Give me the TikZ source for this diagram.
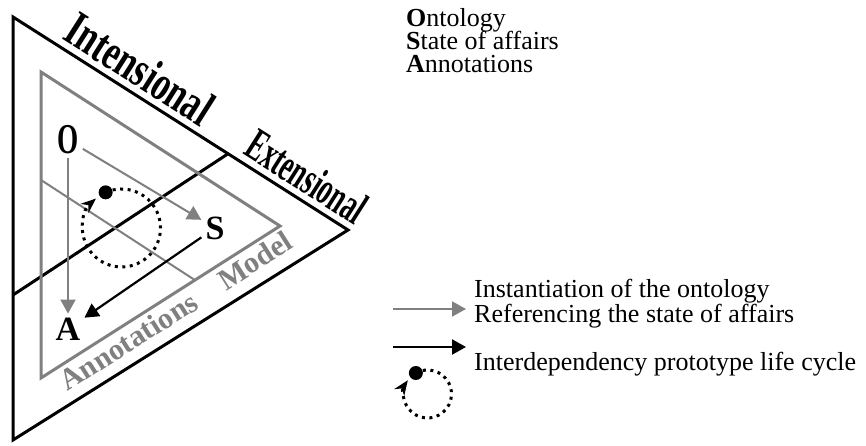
\documentclass[tikz,border=0pt]{standalone}
\usepackage{fontspec}
\setmainfont{Liberation Serif}
\usetikzlibrary{arrows.meta,calc}

\begin{document}
\begin{tikzpicture}[x=1pt,y=1pt,
  frame/.style={line width=3pt, line join=miter},
  model/.style={draw=black!50, line width=3pt},
  inst/.style={draw=black!50, line width=2pt, -{Triangle[length=14pt,width=15pt]}},
  refarr/.style={line width=2.2pt, -{Triangle[length=14pt,width=15pt]}},
  lifecyc/.style={line width=3pt, dash pattern=on 3pt off 4.5pt, -{Stealth[length=15pt,width=12pt,inset=5pt]}},
  dot/.style={circle, fill, inner sep=0pt, minimum size=14pt},
  letter/.style={inner sep=4pt, font=\bfseries\fontsize{34}{34}\selectfont},
  side/.style={sloped, above=7pt, inner sep=0pt, font=\bfseries\fontsize{50}{50}\selectfont},
  mlabel/.style={sloped, below=5pt, inner sep=0pt, text=black!50, font=\bfseries\fontsize{30}{30}\selectfont},
  legend/.style={anchor=base west, inner sep=0pt, font=\fontsize{26}{26}\selectfont},
]
\useasboundingbox (0,0) rectangle (866,446);

% outer triangle and the border between the two sides
\coordinate (ot) at (13,429);
\coordinate (or) at (348,216);
\coordinate (ob) at (13,6);
\draw[frame] (ot) -- (or) -- (ob) -- cycle;
\coordinate (dl) at (13,151);
\coordinate (dr) at ($(ot)!0.642!(or)$);
\draw[frame] (dl) -- (dr);
\path (ot) -- node[side, pos=0.34] {\scalebox{0.69}[1]{Intensional}}
  node[side, pos=0.84, font=\bfseries\fontsize{46}{46}\selectfont] {\scalebox{0.58}[1]{Extensional}} (or);

% model
\coordinate (it) at (41,374);
\coordinate (ir) at (280,220);
\coordinate (ib) at (41,68);
\draw[model] (it) -- (ir) -- (ib) -- cycle;
\coordinate (gl) at (41,266);
\coordinate (gr) at ($(ib)!0.644!(ir)$);
\draw[draw=black!50, line width=2pt] (gl) -- (gr);
\path (ib) -- node[mlabel, pos=0.33] {Annotations} node[mlabel, pos=0.86] {Model} (ir);

\node[letter] (O) at (68,306) {\scalebox{0.8}[1.25]{O}};
\node[letter] (S) at (215,218) {S};
\node[letter] (A) at (68,117) {A};
\draw[inst] (O) -- (A);
\draw[inst] (O) -- (S);
\draw[refarr] (S) -- (A);

\coordinate (cc) at (121.5,218);
\node[dot] (cdot) at ($(cc)+(114:39)$) {};
\draw[lifecyc] (cdot.center) arc[start angle=114, end angle=-229, radius=39];

% legend
\node[legend] (kO) at (406,419) {\textbf{O}ntology};
\node[legend] (kS) at (406,396) {\textbf{S}tate of affairs};
\node[legend] (kA) at (406,373) {\textbf{A}nnotations};

\coordinate (ga) at (393,137);
\coordinate (gb) at (466,137);
\draw[inst] (ga) -- (gb);
\coordinate (ba) at (393,99);
\coordinate (bb) at (466,99);
\draw[refarr] (ba) -- (bb);
\coordinate (lc) at (427.5,52);
\node[dot] (ldot) at ($(lc)+(119:24)$) {};
\draw[lifecyc] (ldot.center) arc[start angle=119, end angle=-215, radius=24];

\node[legend] (tinst) at (474,148) {Instantiation of the ontology};
\node[legend] (tref) at (474,123) {Referencing the state of affairs};
\node[legend] (tcyc) at (474,75) {Interdependency prototype life cycle};
\end{tikzpicture}
\end{document}
